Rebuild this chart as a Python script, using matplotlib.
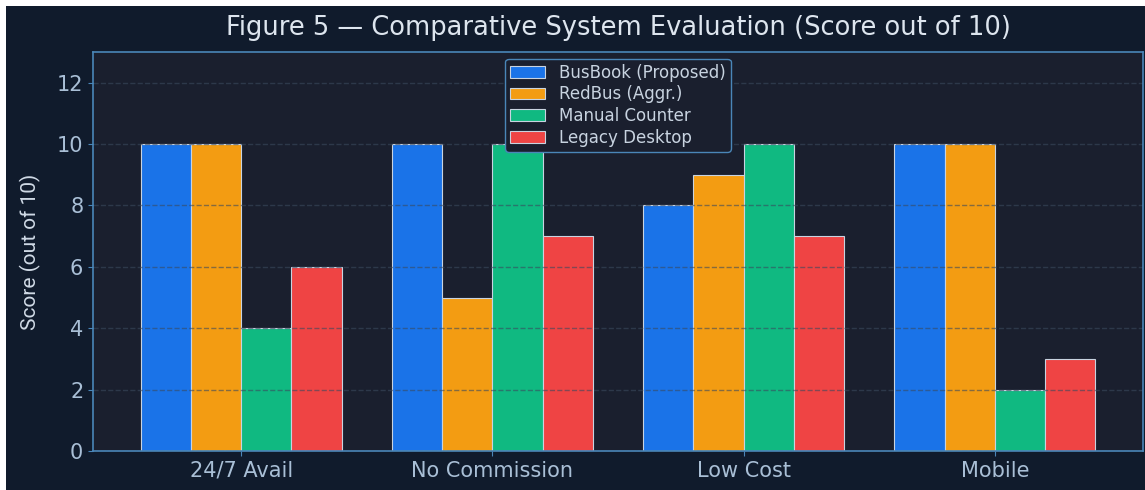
import matplotlib.pyplot as plt
import numpy as np
from matplotlib.patches import Rectangle

categories = ["24/7 Avail", "No Commission", "Low Cost", "Mobile"]
systems = ["BusBook (Proposed)", "RedBus (Aggr.)", "Manual Counter", "Legacy Desktop"]
busbook = [10, 10, 8, 10]
redbus = [10, 5, 9, 10]
manual = [4, 10, 10, 2]
legacy = [6, 7, 7, 3]

colors = ["#1a73e8", "#f39c12", "#10b981", "#ef4444"]
fig_bg = "#101b2c"
ax_bg = "#1a1f2e"
spine_col = "#4a86b8"
text_col = "#a9bfd6"

fig = plt.figure(figsize=(11.45, 4.9), dpi=100, facecolor="white")
# dark panel (the picture is cropped with a thin white strip top/left)
fig.patches.append(Rectangle((6 / 1145, 0), 1, 1 - 6 / 490, transform=fig.transFigure,
                             facecolor=fig_bg, edgecolor="none", zorder=-10))
ax = fig.add_axes([93 / 1145, 1 - 451 / 490, (1143 - 93) / 1145, (451 - 52) / 490])
ax.set_facecolor(ax_bg)

x = np.arange(len(categories))
w = 0.2
series = [busbook, redbus, manual, legacy]
for i, vals in enumerate(series):
    ax.bar(x + (i - 1.5) * w, vals, w, color=colors[i], edgecolor="#c8d3e0",
           linewidth=0.8, label=systems[i])

ax.set_ylim(0, 13)
ax.set_yticks(range(0, 13, 2))
ax.set_xticks(x)
ax.set_xticklabels(categories)
ax.tick_params(colors=spine_col, labelcolor=text_col, labelsize=15)
ax.grid(axis="y", linestyle="--", color="#3a4a5e", alpha=0.6, linewidth=1)
for s in ax.spines.values():
    s.set_color(spine_col)
    s.set_linewidth(1.2)

ax.set_ylabel("Score (out of 10)", color="#d0dae6", fontsize=15,
              family=["Liberation Sans Narrow", "Roboto"], labelpad=11)
ax.set_title("Figure 5 \u2014 Comparative System Evaluation (Score out of 10)",
             color="#dde5ee", fontsize=18.5, pad=12)

leg = ax.legend(loc="upper center", fontsize=12, facecolor=ax_bg, edgecolor=spine_col,
                framealpha=1, borderaxespad=0.4, labelspacing=0.22, borderpad=0.3,
                handlelength=2.1)
for t in leg.get_texts():
    t.set_color("#c8d3e0")

fig.savefig("out.png", dpi=100, facecolor=fig.get_facecolor())
